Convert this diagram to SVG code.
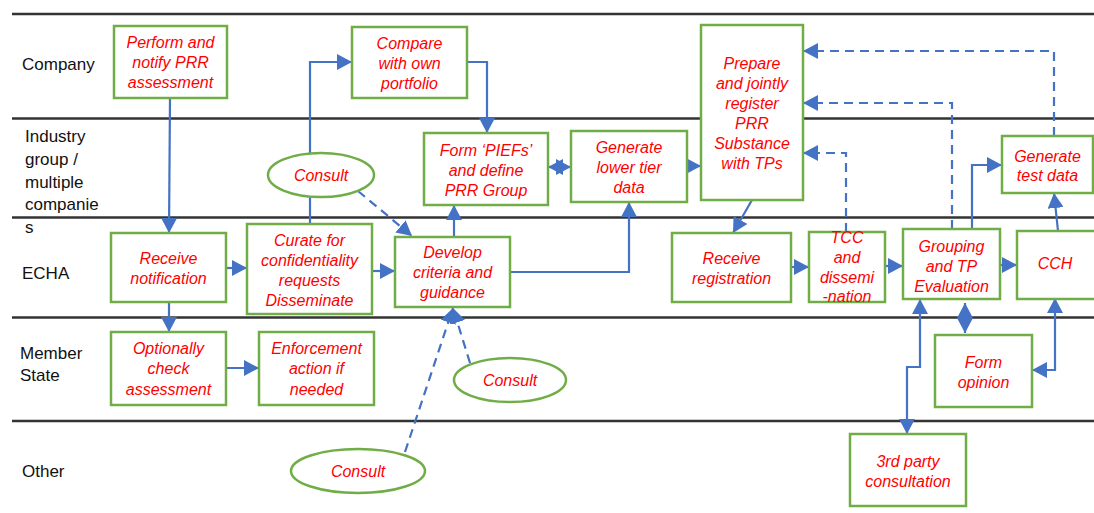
<svg xmlns="http://www.w3.org/2000/svg" width="1094" height="513" viewBox="0 0 1094 513">
<defs>
<style>
.lane{stroke:#333;stroke-width:2.5;fill:none}
.lbl{font-family:"Liberation Sans",Arial,sans-serif;font-size:17px;fill:#111}
.box{fill:#fff;stroke:#70AD47;stroke-width:2.5}
.t{font-family:"Liberation Sans",Arial,sans-serif;font-size:16px;font-style:italic;fill:#FF0000;text-anchor:middle}
.c{fill:none;stroke:#4472C4;stroke-width:2.2}
.d{fill:none;stroke:#4472C4;stroke-width:2.2;stroke-dasharray:9,6}
</style>
<marker id="ah" markerUnits="userSpaceOnUse" markerWidth="15" markerHeight="16" refX="15" refY="8" orient="auto-start-reverse" viewBox="0 0 15 16">
<path d="M0,0 L15,8 L0,16 z" fill="#4472C4"/>
</marker>
</defs>
<rect width="1094" height="513" fill="#fff"/>
<g id="lanes">
<line class="lane" x1="12" y1="14" x2="1094" y2="14"/>
<line class="lane" x1="12" y1="118.5" x2="1094" y2="118.5"/>
<line class="lane" x1="12" y1="217.5" x2="1094" y2="217.5"/>
<line class="lane" x1="12" y1="317.5" x2="1094" y2="317.5"/>
<line class="lane" x1="12" y1="421" x2="1094" y2="421"/>
<text class="lbl" x="22" y="70">Company</text>
<text class="lbl" x="25" y="142">Industry</text>
<text class="lbl" x="25" y="165">group /</text>
<text class="lbl" x="25" y="188">multiple</text>
<text class="lbl" x="25" y="210">companie</text>
<text class="lbl" x="25" y="233">s</text>
<text class="lbl" x="22" y="279">ECHA</text>
<text class="lbl" x="20" y="359">Member</text>
<text class="lbl" x="20" y="381">State</text>
<text class="lbl" x="22" y="477">Other</text>
</g>
<g id="connectors">
<path class="c" d="M170,98 L169,233" marker-end="url(#ah)"/>
<path class="c" d="M169,302 L169,332" marker-end="url(#ah)"/>
<path class="c" d="M226,268 L247,268" marker-end="url(#ah)"/>
<path class="c" d="M226,368 L259,368" marker-end="url(#ah)"/>
<path class="c" d="M310,224 L310,62 L352,62" marker-end="url(#ah)"/>
<path class="c" d="M467,62 L487,62 L487,133" marker-end="url(#ah)"/>
<path class="c" d="M372,271 L395,271" marker-end="url(#ah)"/>
<path class="c" d="M454,237 L454,205" marker-end="url(#ah)"/>
<path class="c" d="M510,272 L629,272 L629,202" marker-end="url(#ah)"/>
<path class="c" d="M548,167 L571,167" marker-start="url(#ah)" marker-end="url(#ah)"/>
<path class="c" d="M686,166 L701,166" marker-end="url(#ah)"/>
<path class="c" d="M752,200 L733,233" marker-end="url(#ah)"/>
<path class="c" d="M791,267 L809,267" marker-end="url(#ah)"/>
<path class="c" d="M885,266 L903,266" marker-end="url(#ah)"/>
<path class="c" d="M1000,265 L1017,265" marker-end="url(#ah)"/>
<path class="d" d="M846,232 L846,153 L803,153" marker-end="url(#ah)"/>
<path class="d" d="M952,229 L952,103 L803,103" marker-end="url(#ah)"/>
<path class="d" d="M1054,136 L1054,51 L803,51" marker-end="url(#ah)"/>
<path class="c" d="M972,229 L972,165 L1002,165" marker-end="url(#ah)"/>
<path class="c" d="M1058,231 L1054,193" marker-end="url(#ah)"/>
<path class="c" d="M965,303 L965,333" marker-start="url(#ah)" marker-end="url(#ah)"/>
<path class="c" d="M1055,298 L1055,370 L1032,370" marker-start="url(#ah)" marker-end="url(#ah)"/>
<path class="c" d="M920,299 L920,367 L907,367 L907,434" marker-start="url(#ah)" marker-end="url(#ah)"/>
<path class="d" d="M358,191 L412,236" marker-end="url(#ah)"/>
<path class="d" d="M405,452 L453,308" marker-end="url(#ah)"/>
<path class="d" d="M470,363 L453,308" marker-end="url(#ah)"/>
</g>
<g id="n-perform"><rect class="box" x="114" y="26" width="113" height="72"/>
<text class="t" x="170.5" y="48">Perform and</text><text class="t" x="170.5" y="68">notify PRR</text><text class="t" x="170.5" y="88">assessment</text></g>
<g id="n-compare"><rect class="box" x="352" y="27" width="115" height="71"/>
<text class="t" x="409.5" y="48.5">Compare</text><text class="t" x="409.5" y="68.5">with own</text><text class="t" x="409.5" y="88.5">portfolio</text></g>
<g id="n-prepare"><rect class="box" x="701" y="25" width="102" height="175"/>
<text class="t" x="752" y="68.5">Prepare</text><text class="t" x="752" y="88.5">and jointly</text><text class="t" x="752" y="108.5">register</text><text class="t" x="752" y="128.5">PRR</text><text class="t" x="752" y="148.5">Substance</text><text class="t" x="752" y="168.5">with TPs</text></g>
<g id="n-piefs"><rect class="box" x="424" y="133" width="124" height="72"/>
<text class="t" x="486" y="155.5">Form ‘PIEFs’</text><text class="t" x="486" y="175.5">and define</text><text class="t" x="486" y="195.5">PRR Group</text></g>
<g id="n-lowertier"><rect class="box" x="571" y="131" width="116" height="71"/>
<text class="t" x="629" y="152.5">Generate</text><text class="t" x="629" y="172.5">lower tier</text><text class="t" x="629" y="192.5">data</text></g>
<g id="n-testdata"><rect class="box" x="1002" y="136" width="91" height="57"/>
<text class="t" x="1047.5" y="162">Generate</text><text class="t" x="1047.5" y="181">test data</text></g>
<g id="n-receivenotif"><rect class="box" x="111" y="233" width="115" height="69"/>
<text class="t" x="168.5" y="263.5">Receive</text><text class="t" x="168.5" y="283.5">notification</text></g>
<g id="n-curate"><rect class="box" x="247" y="224" width="125" height="90"/>
<text class="t" x="309.5" y="246">Curate for</text><text class="t" x="309.5" y="266">confidentiality</text><text class="t" x="309.5" y="286">requests</text><text class="t" x="309.5" y="306">Disseminate</text></g>
<g id="n-develop"><rect class="box" x="395" y="237" width="115" height="70"/>
<text class="t" x="452.5" y="257.5">Develop</text><text class="t" x="452.5" y="277.5">criteria and</text><text class="t" x="452.5" y="297.5">guidance</text></g>
<g id="n-receivereg"><rect class="box" x="672" y="233" width="119" height="69"/>
<text class="t" x="731.5" y="263.5">Receive</text><text class="t" x="731.5" y="283.5">registration</text></g>
<g id="n-tcc"><rect class="box" x="809" y="232" width="76" height="70"/>
<text class="t" x="847" y="242.5">TCC</text><text class="t" x="847" y="262.5">and</text><text class="t" x="847" y="282.5">dissemi</text><text class="t" x="847" y="302">-nation</text></g>
<g id="n-grouping"><rect class="box" x="903" y="229" width="97" height="70"/>
<text class="t" x="951.5" y="251.5">Grouping</text><text class="t" x="951.5" y="271.5">and TP</text><text class="t" x="951.5" y="291.5">Evaluation</text></g>
<g id="n-cch"><rect class="box" x="1017" y="231" width="82" height="68"/>
<text class="t" x="1055" y="269">CCH</text></g>
<g id="n-optionally"><rect class="box" x="111" y="332" width="115" height="73"/>
<text class="t" x="168.5" y="353.5">Optionally</text><text class="t" x="168.5" y="374">check</text><text class="t" x="168.5" y="394.5">assessment</text></g>
<g id="n-enforcement"><rect class="box" x="259" y="332" width="115" height="73"/>
<text class="t" x="316.5" y="353.5">Enforcement</text><text class="t" x="316.5" y="374">action if</text><text class="t" x="316.5" y="395">needed</text></g>
<g id="n-formopinion"><rect class="box" x="935" y="335" width="97" height="72"/>
<text class="t" x="983.5" y="367.5">Form</text><text class="t" x="983.5" y="387.5">opinion</text></g>
<g id="n-3rdparty"><rect class="box" x="850" y="434" width="116" height="72"/>
<text class="t" x="908" y="466.5">3rd party</text><text class="t" x="908" y="486.5">consultation</text></g>
<g id="n-consult1"><ellipse class="box" cx="321" cy="175" rx="53" ry="22"/>
<text class="t" x="321" y="180.5">Consult</text></g>
<g id="n-consult2"><ellipse class="box" cx="510" cy="380" rx="56" ry="22"/>
<text class="t" x="510" y="385.5">Consult</text></g>
<g id="n-consult3"><ellipse class="box" cx="358" cy="471" rx="67" ry="22"/>
<text class="t" x="358" y="476.5">Consult</text></g>
</svg>
